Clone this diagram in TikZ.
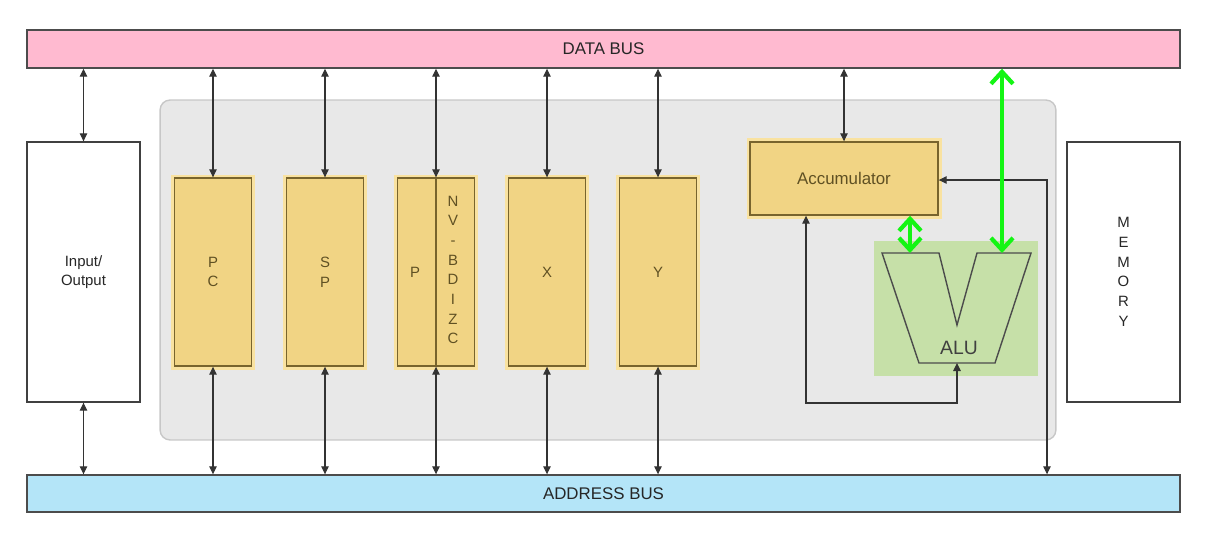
\documentclass[tikz,border=0pt]{standalone}
\usepackage{fontspec}
\setmainfont{Liberation Sans}
\usetikzlibrary{arrows.meta}

\definecolor{buspink}{RGB}{255,186,208}
\definecolor{busblue}{RGB}{180,229,248}
\definecolor{panelgray}{RGB}{232,232,232}
\definecolor{regfill}{RGB}{241,212,132}
\definecolor{regline}{RGB}{120,100,45}
\definecolor{reghalo}{RGB}{249,226,160}
\definecolor{regtext}{RGB}{95,80,35}
\definecolor{alubg}{RGB}{198,224,168}
\definecolor{hotgreen}{RGB}{20,245,20}

\tikzset{
	label font/.style={font=\fontsize{8.5}{11.2}\selectfont},
	big font/.style={font=\fontsize{9.6}{11.2}\selectfont},
	bus/.style={draw=black!70, line width=0.8pt, minimum width=23.06cm, inner sep=0pt, text=black!85, big font},
	unit/.style={draw=black!75, fill=white, line width=0.8pt, minimum width=2.26cm, minimum height=5.2cm, align=center, text=black!85, label font},
	reg/.style={draw=regline, fill=regfill, line width=0.8pt, minimum width=1.54cm, minimum height=3.76cm, align=center, text=regtext, label font, preaction={draw=reghalo, line width=4pt}},
	link/.style={>={Triangle[length=1.6mm,width=1.5mm]}, <->, draw=black!80, line width=0.6pt},
	hot/.style={>={Straight Barb[length=2.4mm,width=4.4mm]}, <->, draw=hotgreen, line width=2.4pt}
}

\begin{document}
\begin{tikzpicture}[x=0.02cm, y=-0.02cm]
	\useasboundingbox (0,0) rectangle (1211,535);

	% Draw the CPU panel
	\node (panel) [draw=black!22, fill=panelgray, rounded corners=0.2cm, line width=0.8pt, minimum width=17.92cm, minimum height=6.8cm] at (608,270) {};
	\node (alubox) [fill=alubg, minimum width=3.28cm, minimum height=2.7cm] at (956,308.5) {};

	% Draw the buses
	\node (databus) [bus, fill=buspink, minimum height=0.76cm] at (603.5,49) {DATA BUS};
	\node (addrbus) [bus, fill=busblue, minimum height=0.74cm] at (603.5,493.5) {ADDRESS BUS};

	% Draw the outside units
	\node (io) [unit] at (83.5,272) {Input/\\Output};
	\node (mem) [unit] at (1123.5,272) {M\\E\\M\\O\\R\\Y};

	% Draw the registers
	\node (pc) [reg] at (213,272) {P\\C};
	\node (sp) [reg] at (325,272) {S\\P};
	\node (preg) [reg] at (436,272) {};
	\node (x) [reg] at (547,272) {X};
	\node (y) [reg] at (658,272) {Y};
	\node (acc) [reg, big font, minimum width=3.76cm, minimum height=1.46cm] at (844,178.5) {Accumulator};
	\draw [regline, line width=0.8pt] (preg.north) -- (preg.south);
	\node (plabel) [text=regtext, label font] at (415,272) {P};
	\node (pflag) [text=regtext, label font, align=center] at (453,270) {N\\V\\-\\B\\D\\I\\Z\\C};

	% Draw the ALU
	\coordinate (alubm) at (957,363);
	\draw [black!70, line width=0.8pt] (882,253) -- (939,253) -- (957,325) -- (977,253) -- (1031,253) -- (995,363) -- (919,363) -- cycle;
	\node (alu) [text=black!75, font=\fontsize{11}{13}\selectfont] at (959,348) {ALU};

	% Draw the bus links
	\draw [link] (io.north |- databus.south) -- (io.north);
	\draw [link] (io.south) -- (io.south |- addrbus.north);
	\foreach \r in {pc,sp,preg,x,y} {
		\draw [link] (\r.north |- databus.south) -- (\r.north);
		\draw [link] (\r.south) -- (\r.south |- addrbus.north);
	}
	\draw [link] (acc.north |- databus.south) -- (acc.north);

	% Draw the accumulator paths
	\coordinate (accturn) at (1047,180);
	\draw [link] (acc.east |- accturn) -- (accturn) -- (accturn |- addrbus.north);
	\coordinate (loopl) at (806,403);
	\draw [link] (acc.south -| loopl) -- (loopl) -| (alubm);

	% Draw the green arrows
	\coordinate (aluinl) at (910,253);
	\coordinate (aluinr) at (1002,253);
	\draw [hot] (acc.south -| aluinl) -- (aluinl);
	\draw [hot] (databus.south -| aluinr) -- (aluinr);
\end{tikzpicture}
\end{document}
